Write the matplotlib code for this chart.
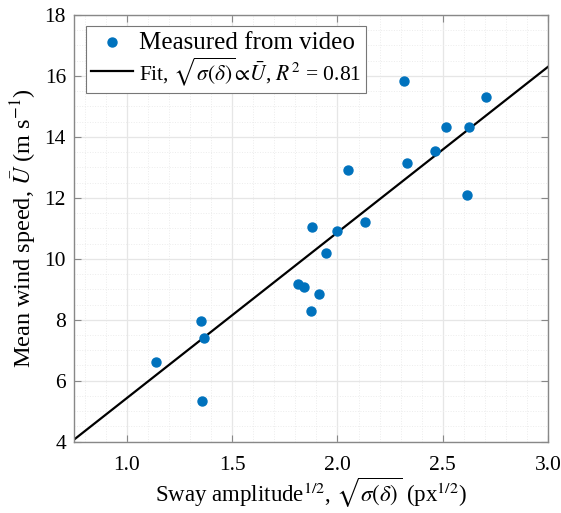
import numpy as np
import matplotlib
matplotlib.use("Agg")
import matplotlib.pyplot as plt
from matplotlib.ticker import MultipleLocator

# sqrt sway amplitude (px^1/2) and mean wind speed (m/s)
sway = [1.14, 1.35, 1.366, 1.355, 1.814, 1.839, 1.911, 1.876, 1.879, 1.947,
        2.00, 2.315, 2.704, 2.516, 2.626, 2.465, 2.330, 2.051, 2.616, 2.132]
wind = [6.61, 7.95, 7.41, 5.32, 9.18, 9.07, 8.86, 8.29, 11.05, 10.20,
        10.91, 15.83, 15.30, 14.31, 14.31, 13.54, 13.16, 12.91, 12.08, 11.20]
fit_slope = 5.433  # fit through origin
fit_x = [0.75, 3.0]

plt.rcParams['font.family'] = ['Liberation Serif', 'DejaVu Serif']
plt.rcParams['mathtext.fontset'] = 'stix'

fig = plt.figure(figsize=(5.61, 5.13), dpi=100)
ax = fig.add_axes([0.1324, 0.139, 0.8444, 0.8318])

ax.scatter(sway, wind, s=42, color='#0072BD', zorder=3, label='Measured from video')
ax.plot(fit_x, [fit_slope * v for v in fit_x], color='black', lw=1.6, zorder=2,
        label=r'Fit, $\sqrt{\sigma(\delta)}\!\propto\!\bar{U}$, $R^2$ = 0.81')

ax.set_xlim(0.75, 3.0)
ax.set_ylim(4, 18)
ax.xaxis.set_minor_locator(MultipleLocator(0.1))
ax.yaxis.set_major_locator(MultipleLocator(2))
ax.yaxis.set_minor_locator(MultipleLocator(0.5))
ax.set_xticks([1.0, 1.5, 2.0, 2.5, 3.0])
ax.set_xticklabels(['1.0', '1.5', '2.0', '2.5', '3.0'])

ax.grid(which='major', color='#e6e6e6', lw=0.9, zorder=0)
ax.grid(which='minor', color='#ececec', lw=0.7, ls=':', zorder=0)
ax.set_axisbelow(True)

for sp in ax.spines.values():
    sp.set_color('#888888')
    sp.set_linewidth(1.0)
ax.tick_params(which='both', direction='in', top=True, right=True, colors='#888888',
               labelcolor='black', labelsize=15.5)
ax.tick_params(which='major', length=5)
ax.tick_params(which='minor', length=0)
ax.tick_params(axis='x', pad=10)
ax.tick_params(axis='y', pad=6)

ax.set_xlabel(r'Sway amplitude$^{1/2}$, $\sqrt{\sigma(\delta)}$ (px$^{1/2}$)', fontsize=16.5, labelpad=1)
ax.set_ylabel(r'Mean wind speed, $\bar{U}$ (m s$^{-1}$)', fontsize=17.5, labelpad=4)

leg = ax.legend(loc='upper left', fontsize=18, fancybox=False, framealpha=1,
                edgecolor='#777777', borderaxespad=0.45, handlelength=1.7,
                handletextpad=0.25, borderpad=0.2, labelspacing=0.05)
leg.get_frame().set_linewidth(0.8)
leg.get_texts()[1].set_fontsize(15.5)

fig.savefig("out.png", dpi=100)
